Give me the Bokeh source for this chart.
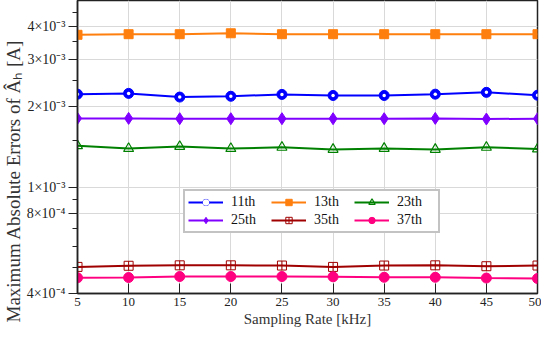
from bokeh.plotting import figure
from bokeh.models import FixedTicker, CustomJSTickFormatter, Legend, LegendItem, Range1d, Title
from bokeh.embed import file_html
from bokeh.resources import INLINE

rates = [5, 10, 15, 20, 25, 30, 35, 40, 45, 50]
h11 = [2.23e-3, 2.245e-3, 2.175e-3, 2.19e-3, 2.225e-3, 2.205e-3, 2.205e-3, 2.23e-3, 2.265e-3, 2.21e-3]
h13 = [3.72e-3, 3.74e-3, 3.74e-3, 3.77e-3, 3.74e-3, 3.74e-3, 3.74e-3, 3.74e-3, 3.74e-3, 3.74e-3]
h23 = [1.43e-3, 1.395e-3, 1.42e-3, 1.395e-3, 1.41e-3, 1.385e-3, 1.397e-3, 1.385e-3, 1.41e-3, 1.39e-3]
h25 = [1.81e-3, 1.81e-3, 1.805e-3, 1.805e-3, 1.805e-3, 1.805e-3, 1.805e-3, 1.81e-3, 1.80e-3, 1.805e-3]
h35 = [5.03e-4, 5.08e-4, 5.10e-4, 5.10e-4, 5.09e-4, 5.03e-4, 5.09e-4, 5.10e-4, 5.06e-4, 5.09e-4]
h37 = [4.58e-4, 4.59e-4, 4.63e-4, 4.63e-4, 4.63e-4, 4.62e-4, 4.60e-4, 4.60e-4, 4.57e-4, 4.55e-4]

x_ticks = [5, 10, 15, 20, 25, 30, 35, 40, 45, 50]
y_ticks = [4e-4, 8e-4, 1e-3, 2e-3, 3e-3, 4e-3]
y_minor = [5e-4, 6e-4, 7e-4, 9e-4, 1.5e-3, 2.5e-3, 3.5e-3, 4.5e-3]

FONT = "Liberation Serif"

p = figure(frame_width=460, frame_height=293, y_axis_type="log", output_backend="svg",
           toolbar_location=None, x_range=Range1d(5, 50), y_range=Range1d(4e-4, 5e-3),
           min_border_left=70, min_border_right=4, min_border_top=0, min_border_bottom=30)

p.outline_line_color = "#222222"
p.outline_line_width = 1.5

p.xaxis.ticker = FixedTicker(ticks=x_ticks)
p.yaxis.ticker = FixedTicker(ticks=y_ticks, minor_ticks=y_minor)
p.yaxis.formatter = CustomJSTickFormatter(code="""
const e = Math.floor(Math.log10(tick) + 1e-9);
const m = Math.round(tick / Math.pow(10, e));
const sup = {'-': '\\u207B', '0': '\\u2070', '1': '\\u00B9', '2': '\\u00B2', '3': '\\u00B3',
             '4': '\\u2074', '5': '\\u2075', '6': '\\u2076', '7': '\\u2077', '8': '\\u2078', '9': '\\u2079'};
return m + '\\u00D710' + String(e).split('').map(c => sup[c]).join('');
""")

for ax in (p.xaxis[0], p.yaxis[0]):
    ax.axis_line_color = "#222222"
    ax.axis_line_width = 1.5
    ax.major_tick_line_color = "#222222"
    ax.minor_tick_line_color = "#222222"
    ax.major_label_text_font = FONT
    ax.major_label_text_color = "#222222"
    ax.axis_label_text_font = FONT
    ax.axis_label_text_font_style = "normal"
    ax.axis_label_text_color = "#333333"

p.xaxis.major_label_text_font_size = "13px"
p.yaxis.major_label_text_font_size = "14px"
p.xaxis.axis_label_text_font_size = "15px"
p.xaxis.major_tick_in = 10
p.xaxis.major_tick_out = 0
p.xaxis.minor_tick_line_color = None
p.xaxis.major_label_standoff = 4
p.yaxis.major_tick_in = 0
p.yaxis.major_tick_out = 9
p.yaxis.minor_tick_in = 0
p.yaxis.minor_tick_out = 5
p.yaxis.major_label_standoff = 3
p.xaxis.axis_label = "Sampling Rate [kHz]"
p.xaxis.axis_label_standoff = 2

ylabel = Title(text="Maximum Absolute Errors of \u00C2\u2095    [A]", align="left",
               offset=-29, text_font=FONT, text_font_style="normal", text_font_size="19px",
               text_color="#333333", standoff=0)
p.add_layout(ylabel, "left")

p.xgrid.grid_line_color = "#d9d9d9"
p.ygrid.grid_line_color = "#d9d9d9"
p.xgrid.grid_line_width = 1
p.ygrid.grid_line_width = 1

series = [
    ("11th", h11, "#0000ff", "circle", "#0000ff", 1, 10),
    ("13th", h13, "#ff7f0e", "square", "#ff7f0e", 1, 9),
    ("23th", h23, "#008000", "triangle", None, 1.2, 10),
    ("25th", h25, "#8000ff", "diamond", "#8000ff", 1, 12),
    ("35th", h35, "#a00000", "square_cross", None, 1, 9),
    ("37th", h37, "#ff0080", "circle", "#ff0080", 1, 10),
]

items = {}
for name, ys, color, marker, fill, lw, size in series:
    r1 = p.line(rates, ys, line_color=color, line_width=2)
    r2 = p.scatter(rates, ys, marker=marker, size=size, line_color=color,
                   fill_color=fill if fill else "white", fill_alpha=1 if fill else 0,
                   line_width=lw)
    rs = [r1, r2]
    if name == "11th":
        rs.append(p.scatter(rates, ys, marker="circle", size=3.5, fill_color="white",
                            line_color=None))
    items[name] = LegendItem(label=name, renderers=rs)

# column-major fill with 3 columns x 2 rows
order = ["11th", "25th", "13th", "35th", "23th", "37th"]
legend = Legend(items=[items[k] for k in order], location=(106, 60), ncols=3,
                label_text_font=FONT, label_text_font_size="14px", label_text_color="#111111",
                glyph_width=35, glyph_height=16, label_height=16, label_standoff=8,
                label_width=38, spacing=2, padding=3, margin=0,
                border_line_color="#888888", border_line_width=2,
                background_fill_color="white", background_fill_alpha=1)
p.add_layout(legend, "center")

open("out.html", "w").write(file_html(p, INLINE))
